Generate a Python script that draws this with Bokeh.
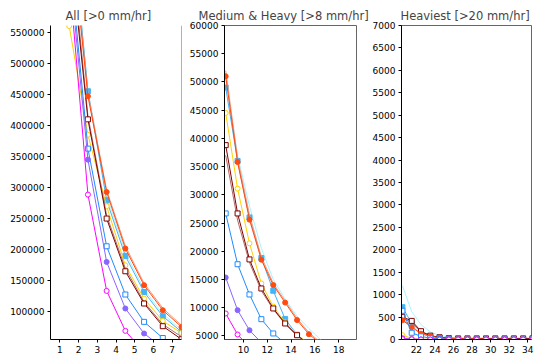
from bokeh.plotting import figure
from bokeh.layouts import row
from bokeh.models import FixedTicker, BasicTickFormatter, Span, BoxAnnotation, Range1d
from bokeh.embed import file_html
from bokeh.resources import INLINE

# ---------------- data ----------------
titles = ["All [>0 mm/hr]", "Medium & Heavy [>8 mm/hr]", "Heaviest [>20 mm/hr]"]

x_all = [1.5, 2.5, 3.5, 4.5, 5.5, 6.5, 7.5]
x_med = [8.5, 9.5, 10.5, 11.5, 12.5, 13.5, 14.5, 15.5, 16.5, 17.5, 18.5, 19.5]
x_hvy = [20.5, 21.5, 22.5, 23.5, 24.5, 25.5, 26.5, 27.5, 28.5, 29.5, 30.5, 31.5, 32.5, 33.5, 34.5]

# series values per panel
cyan_all = [760000, 458000, 287000, 196000, 136000, 97000, 71000]
cyan_med = [50500, 37000, 28000, 20500, 15000, 11500, 8500, 6300, 4300, 3000, 2000, 1300]
cyan_hvy = [1200, 620, 330, 170, 90, 50, 30, 15, 10, 5, 0, 0, 0, 0, 0]

lblue_all = [770000, 455000, 279600, 190000, 132000, 93000, 68000]
lblue_med = [49000, 36000, 26000, 18800, 13000, 8000, 5200, 3500, 2200, 1400, 900, 600]
lblue_hvy = [720, 360, 170, 80, 40, 20, 10, 5, 0, 0, 0, 0, 0, 0, 0]

salmon_all = [750000, 452000, 296000, 206000, 146000, 106000, 78500]
salmon_med = [52000, 36500, 26500, 19000, 14300, 11200, 8100, 5600, 3800, 2500, 1700, 1100]
salmon_hvy = [450, 290, 140, 75, 45, 28, 20, 15, 10, 5, 0, 0, 0, 0, 0]

orange_all = [740000, 447000, 292900, 202000, 143000, 102700, 75900]
orange_med = [51000, 35800, 25600, 18500, 14000, 10900, 7800, 5300, 3600, 2400, 1600, 1000]
orange_hvy = [430, 275, 130, 70, 40, 25, 20, 18, 12, 8, 5, 3, 0, 0, 0]

gold_all = [560000, 385000, 270000, 175000, 121500, 85500, 66000]
gold_med = [44500, 31100, 21400, 14300, 10200, 7400, 5200, 3600, 2400, 1600, 1000, 600]
gold_hvy = [95, 25, 8, 2, 0, 0, 0, 0, 0, 0, 0, 0, 0, 0, 0]

rosy_all = [720000, 415000, 255000, 170000, 116000, 80000, 60000]
rosy_med = [37000, 25500, 18000, 13000, 9700, 7100, 5000, 3500, 2400, 1600, 1000, 700]
rosy_hvy = [480, 380, 170, 80, 45, 25, 15, 10, 5, 0, 0, 0, 0, 0, 0]

maroon_all = [700000, 409800, 250200, 165400, 113500, 77000, 56000]
maroon_med = [38800, 26700, 18550, 13400, 9860, 7200, 5120, 3500, 2400, 1600, 1000, 700]
maroon_hvy = [505, 415, 185, 85, 50, 30, 25, 25, 25, 25, 25, 25, 25, 25, 25]

dodger_all = [680000, 362700, 205600, 128000, 84000, 58000, 40000]
dodger_med = [26700, 17700, 12340, 7960, 5430, 3700, 2500, 1600, 1000, 600, 400, 200]
dodger_hvy = [640, 150, 70, 30, 12, 5, 0, 0, 0, 0, 0, 0, 0, 0, 0]

purple_all = [660000, 345000, 180400, 105500, 65300, 42000, 27000]
purple_med = [15350, 9560, 6000, 3800, 2400, 1500, 900, 500, 300, 200, 100, 50]
purple_hvy = [30, 10, 3, 0, 0, 0, 0, 0, 0, 0, 0, 0, 0, 0, 0]

magenta_all = [640000, 288700, 133800, 69500, 35000, 18000, 9000]
magenta_med = [8970, 5250, 3000, 1700, 1000, 600, 300, 150, 80, 40, 20, 10]
magenta_hvy = [10, 3, 0, 0, 0, 0, 0, 0, 0, 0, 0, 0, 0, 0, 0]

# ticks
xt_all = [1, 2, 3, 4, 5, 6, 7]
yt_all = [100000, 150000, 200000, 250000, 300000, 350000, 400000, 450000, 500000, 550000]
xt_med = [10, 12, 14, 16, 18]
yt_med = [5000, 10000, 15000, 20000, 25000, 30000, 35000, 40000, 45000, 50000, 55000, 60000]
xt_hvy = [22, 24, 26, 28, 30, 32, 34]
yt_hvy = [0, 500, 1000, 1500, 2000, 2500, 3000, 3500, 4000, 4500, 5000, 5500, 6000, 6500, 7000]

# ---------------- styles ----------------
series = [
    # (all, med, hvy, color, marker, filled)
    (cyan_all, cyan_med, cyan_hvy, "#a8f4ff", None, False),
    (lblue_all, lblue_med, lblue_hvy, "#45b4f5", "square", True),
    (salmon_all, salmon_med, salmon_hvy, "#ff9472", None, False),
    (gold_all, gold_med, gold_hvy, "#ffd000", "circle", False),
    (rosy_all, rosy_med, rosy_hvy, "#b06a6a", None, False),
    (maroon_all, maroon_med, maroon_hvy, "#800000", "square", False),
    (orange_all, orange_med, orange_hvy, "#ff4a10", "circle", True),
    (dodger_all, dodger_med, dodger_hvy, "#1e8cff", "square", False),
    (purple_all, purple_med, purple_hvy, "#8866ff", "circle", True),
    (magenta_all, magenta_med, magenta_hvy, "#ff00ff", "circle", False),
]

FONT = "DejaVu Sans"
H = 358


def make_fig(width, bl, br, xr, yr, title, offset, xt, yt):
    p = figure(width=width, height=H, x_range=Range1d(*xr), y_range=Range1d(*yr),
               output_backend="svg", toolbar_location=None,
               min_border_left=bl, min_border_right=br, min_border_top=25, min_border_bottom=19,
               title=title)
    p.title.align = "left"
    p.title.offset = offset
    p.title.text_font = FONT
    p.title.text_font_size = "11.5px"
    p.title.text_font_style = "normal"
    p.title.standoff = 6
    p.xgrid.visible = False
    p.ygrid.visible = False
    p.background_fill_color = "white"
    p.border_fill_color = "white"
    p.outline_line_color = "#666666"
    for ax, ticks in ((p.xaxis[0], xt), (p.yaxis[0], yt)):
        ax.ticker = FixedTicker(ticks=ticks)
        ax.formatter = BasicTickFormatter(use_scientific=False)
        ax.major_tick_in = 0
        ax.major_tick_out = 3
        ax.minor_tick_line_color = None
        ax.axis_line_color = "black"
        ax.major_tick_line_color = "black"
        ax.major_label_text_font = FONT
        ax.major_label_text_font_size = "9px"
        ax.major_label_text_color = "black"
        ax.major_label_standoff = 3
    return p


p1 = make_fig(186, 50, 5, (0.5, 7.5), (55600, 560800), titles[0], 15, xt_all, yt_all)
p2 = make_fig(183, 38, 13, (8.4, 19.5), (4360, 60000), titles[1], -26, xt_med, yt_med)
p3 = make_fig(165, 30, 3, (20.4, 34.4), (0, 7000), titles[2], -1, xt_hvy, yt_hvy)

# panel 1 has no top border, only a right border
p1.outline_line_color = None
p1.add_layout(Span(location=7.5, dimension="height", line_color="#666666", line_width=1))

# panel 2: bottom axis solid, then dashed to the right
p2.xaxis[0].axis_line_color = None
p2.add_layout(BoxAnnotation(left=8.4, right=14.8, top=4360, bottom=4360, fill_alpha=0,
                            line_color="black", line_width=1, level="overlay"))
p2.add_layout(BoxAnnotation(left=14.8, right=19.5, top=4360, bottom=4360, fill_alpha=0,
                            line_color="#333333", line_width=1, line_dash="6 4", level="overlay"))

for all_v, med_v, hvy_v, color, marker, filled in series:
    for p, xs, ys in ((p1, x_all, all_v), (p2, x_med, med_v), (p3, x_hvy, hvy_v)):
        p.line(xs, ys, line_color=color, line_width=1)
        if marker is not None:
            p.scatter(xs, ys, marker=marker, size=5, line_color=color, line_width=1,
                      fill_color=color if filled else "white")

layout = row(p1, p2, p3)

open("out.html", "w").write(file_html(layout, INLINE))
